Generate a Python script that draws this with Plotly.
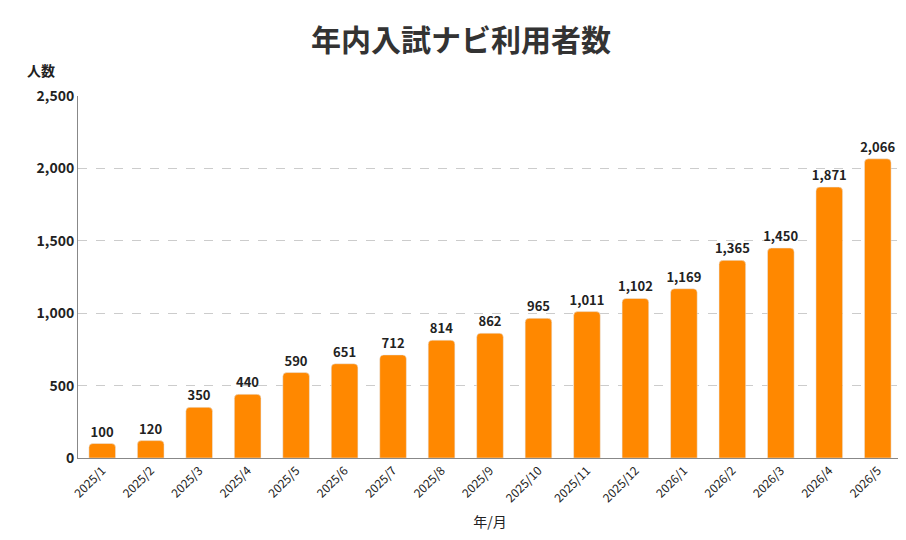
import plotly.graph_objects as go

months = ['2025/1', '2025/2', '2025/3', '2025/4', '2025/5', '2025/6', '2025/7', '2025/8', '2025/9',
          '2025/10', '2025/11', '2025/12', '2026/1', '2026/2', '2026/3', '2026/4', '2026/5']
users = [100, 120, 350, 440, 590, 651, 712, 814, 862, 965, 1011, 1102, 1169, 1365, 1450, 1871, 2066]

font = 'Noto Sans CJK JP'

fig = go.Figure()
fig.add_trace(go.Bar(
    x=months, y=users,
    marker=dict(color='#ff8800', cornerradius=4),
    width=0.55,
    text=[f'{v:,}' for v in users], textposition='outside',
    textfont=dict(size=13, color='#222', family=font, weight='bold'),
    cliponaxis=False,
))
fig.update_layout(
    width=906, height=540,
    paper_bgcolor='white', plot_bgcolor='white',
    font=dict(family=font, color='#222'),
    title=dict(text='<b>年内入試ナビ利用者数</b>', x=0.5, xanchor='center', y=0.96,
               font=dict(size=30, color='#333')),
    margin=dict(l=70, r=12, t=88, b=90),
    showlegend=False,
    uniformtext=dict(minsize=13, mode='show'),
    xaxis=dict(tickangle=-45, tickfont=dict(size=12), showline=True, linecolor='#888',
               title=dict(text='年/月', font=dict(size=14), standoff=12)),
    yaxis=dict(range=[0, 2500], dtick=500, tickformat=',', tickfont=dict(size=14, weight='bold'),
               showgrid=True, gridcolor='#ccc', griddash='dash', zeroline=False,
               showline=True, linecolor='#888'),
    annotations=[dict(text='<b>人数</b>', xref='paper', yref='paper', x=-0.045, y=1.04,
                      xanchor='center', yanchor='bottom', showarrow=False, font=dict(size=14))],
)
fig.write_html('out.html')
